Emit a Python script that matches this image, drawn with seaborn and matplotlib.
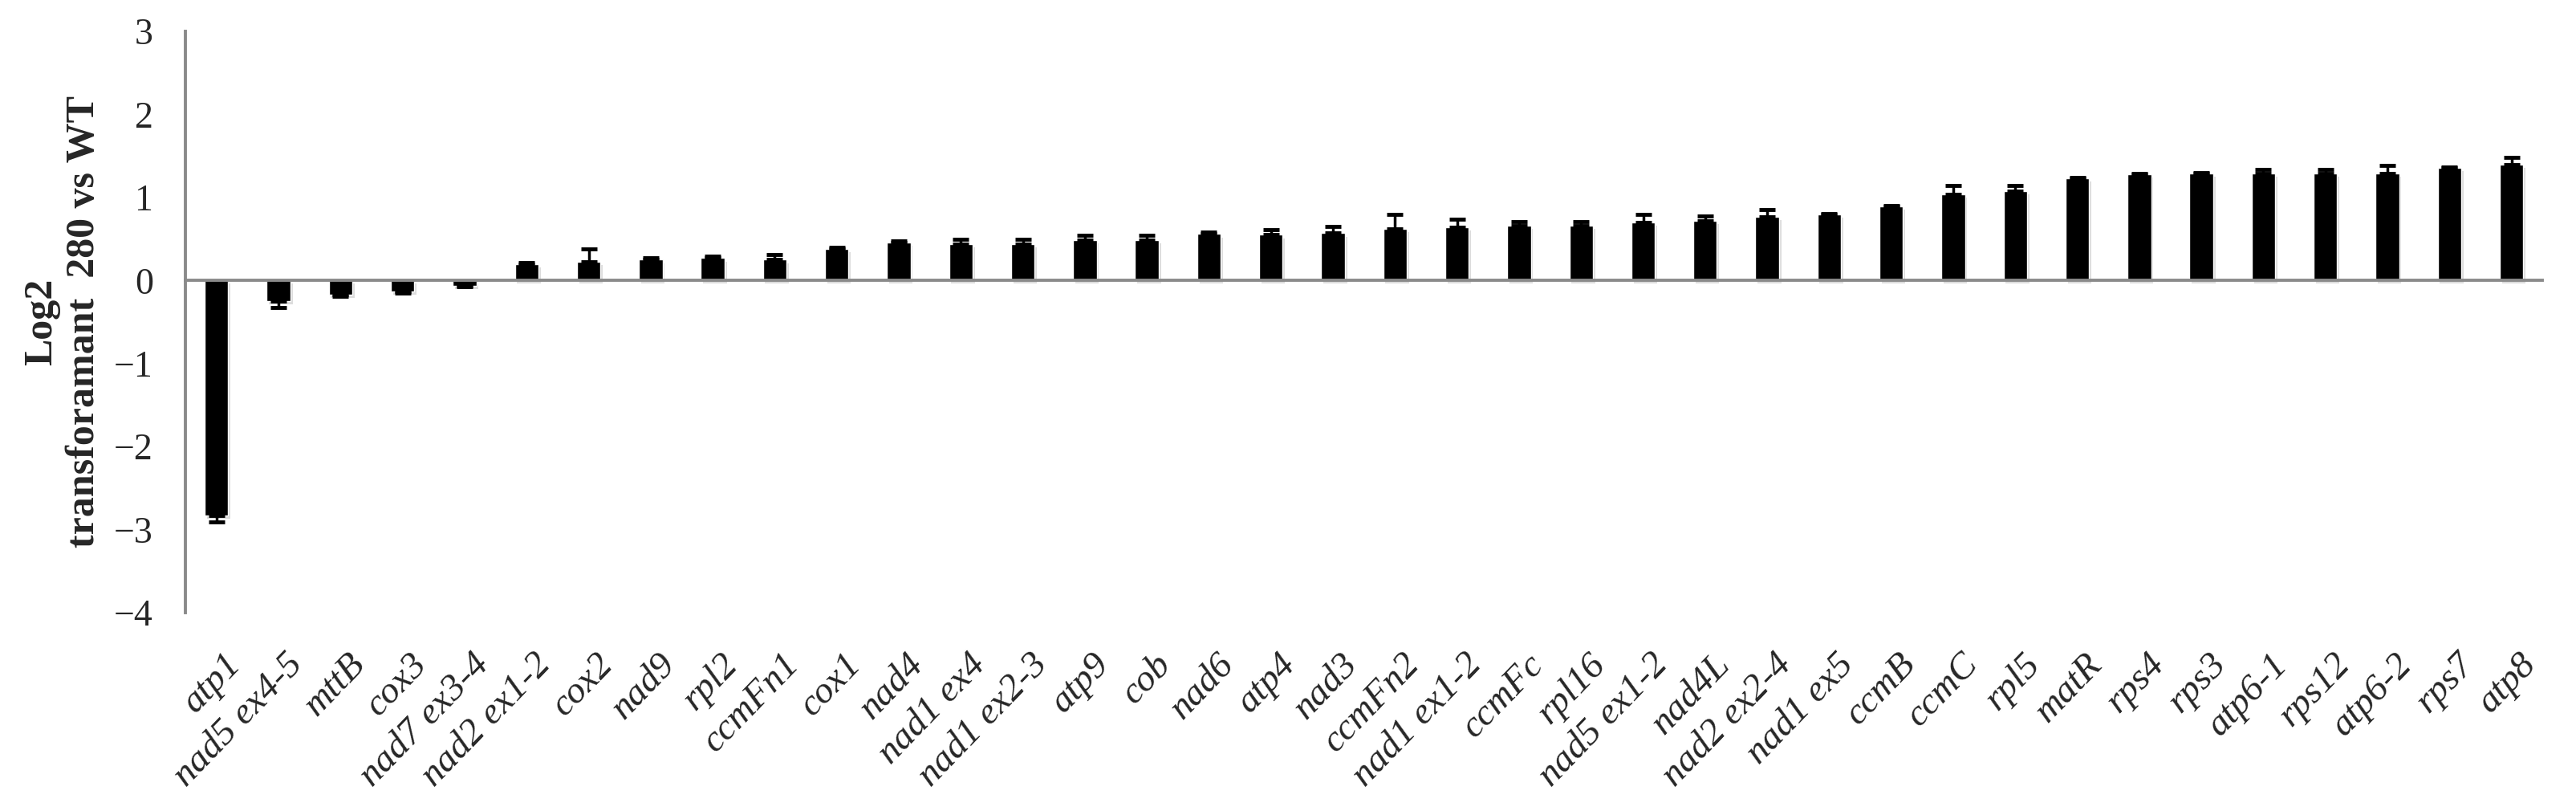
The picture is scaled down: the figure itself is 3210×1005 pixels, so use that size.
import matplotlib
matplotlib.use('Agg')
import numpy as np
import pandas as pd
import matplotlib.pyplot as plt
import matplotlib.patheffects as pe
import matplotlib.transforms as mtransforms
from matplotlib.ticker import FixedLocator
import seaborn as sns

# Log2 ratio transformant 280 vs WT per mitochondrial transcript
genes = ['atp1', 'nad5 ex4-5', 'mttB', 'cox3', 'nad7 ex3-4', 'nad2 ex1-2', 'cox2', 'nad9',
         'rpl2', 'ccmFn1', 'cox1', 'nad4', 'nad1 ex4', 'nad1 ex2-3', 'atp9', 'cob', 'nad6',
         'atp4', 'nad3', 'ccmFn2', 'nad1 ex1-2', 'ccmFc', 'rpl16', 'nad5 ex1-2', 'nad4L',
         'nad2 ex2-4', 'nad1 ex5', 'ccmB', 'ccmC', 'rpl5', 'matR', 'rps4', 'rps3', 'atp6-1',
         'rps12', 'atp6-2', 'rps7', 'atp8']
log2_vals = [-2.83, -0.25, -0.17, -0.13, -0.065, 0.20, 0.23, 0.25, 0.27, 0.25, 0.38, 0.46,
             0.44, 0.44, 0.49, 0.49, 0.56, 0.55, 0.57, 0.62, 0.64, 0.66, 0.66, 0.70, 0.72,
             0.77, 0.80, 0.89, 1.04, 1.08, 1.23, 1.28, 1.29, 1.29, 1.29, 1.29, 1.36, 1.40]
errs = [0.08, 0.08, 0.02, 0.02, 0.01, 0.02, 0.15, 0.02, 0.02, 0.06, 0.02, 0.02, 0.06, 0.06,
        0.05, 0.05, 0.02, 0.06, 0.08, 0.18, 0.10, 0.05, 0.05, 0.10, 0.06, 0.08, 0.01, 0.01,
        0.10, 0.06, 0.01, 0.01, 0.01, 0.05, 0.05, 0.10, 0.01, 0.08]
yticks = [-4, -3, -2, -1, 0, 1, 2, 3]

sns.set_style('white')
plt.rcParams['font.family'] = ['Liberation Serif', 'DejaVu Serif']
axis_grey = '#8a8a8a'

fig, ax = plt.subplots(figsize=(32.1, 10.05), dpi=100)
fig.subplots_adjust(left=0.072, right=0.987, top=0.961, bottom=0.241)

df = pd.DataFrame({'gene': genes, 'log2': log2_vals})
sns.barplot(data=df, x='gene', y='log2', color='black', saturation=1, width=0.38,
            errorbar=None, ax=ax)

# soft shadow like the spreadsheet original
for p in ax.patches:
    p.set_path_effects([pe.SimplePatchShadow(offset=(2, -3), shadow_rgbFace='0.55', alpha=0.3),
                        pe.Normal()])

# error bars only on the outward side of each bar
x = np.arange(len(genes))
lower = [e if v < 0 else 0 for v, e in zip(log2_vals, errs)]
upper = [0 if v < 0 else e for v, e in zip(log2_vals, errs)]
ax.errorbar(x, log2_vals, yerr=[lower, upper], fmt='none', ecolor='black',
            elinewidth=2.5, capsize=7.5, capthick=3.5, zorder=3)

ax.set_ylim(-4, 3)
ax.set_xlim(-0.5, len(genes) - 0.5)
ax.set_yticks(yticks)
ax.set_xlabel('')

for side in ['top', 'right']:
    ax.spines[side].set_visible(False)
for side in ['left', 'bottom']:
    ax.spines[side].set_color(axis_grey)
    ax.spines[side].set_linewidth(2.8)
ax.spines['bottom'].set_position(('data', 0))

ax.xaxis.set_minor_locator(FixedLocator(np.arange(0.5, len(genes), 1)))
ax.tick_params(axis='x', which='major', length=0, labelbottom=False)
ax.tick_params(axis='x', which='minor', length=9, width=2.5, color=axis_grey, direction='out')
ax.tick_params(axis='y', length=9, width=2.5, color=axis_grey, labelsize=33, pad=20)

# gene names along the bottom of the plot area
sec = ax.secondary_xaxis(location=0)
sec.set_xticks(x, labels=genes)
sec.tick_params(length=0, pad=42, labelsize=34)
sec.spines['bottom'].set_visible(False)
shift = mtransforms.ScaledTranslation(0.24, 0, fig.dpi_scale_trans)
for lab in sec.get_xticklabels():
    lab.set_rotation(46)
    lab.set_ha('right')
    lab.set_va('center')
    lab.set_rotation_mode('anchor')
    lab.set_style('italic')
    lab.set_transform(lab.get_transform() + shift)

ax.set_ylabel('Log2\ntransforamant  280 vs WT', fontsize=36, fontweight='bold', linespacing=1.2)
ax.yaxis.set_label_coords(-0.035, 0.5)

fig.savefig('out.png', dpi=100)
